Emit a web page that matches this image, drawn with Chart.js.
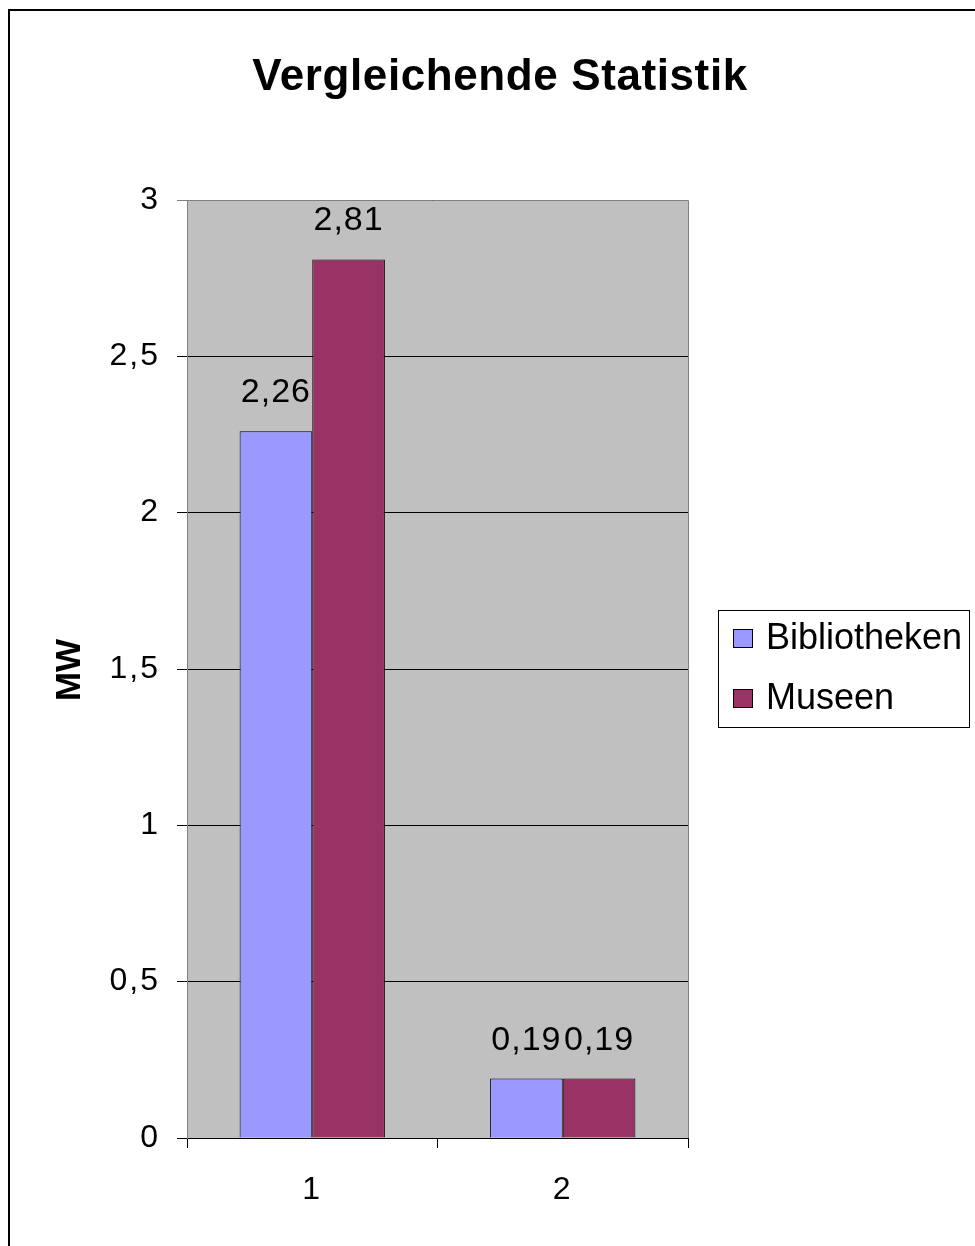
<!DOCTYPE html>
<html>
<head>
<meta charset="utf-8">
<script src="https://cdn.jsdelivr.net/npm/chart.js@4/dist/chart.umd.min.js"></script>
<style>
  html, body { margin: 0; padding: 0; background: #ffffff; }
  #wrap { width: 975px; height: 1246px; position: relative; }
</style>
</head>
<body>
<div id="wrap"><canvas id="c" width="975" height="1246"></canvas></div>
<script>
const chartTitle = 'Vergleichende Statistik';
const yAxisTitle = 'MW';
const categories = ['1', '2'];
const seriesNames = ['Bibliotheken', 'Museen'];
const bibliothekenValues = [2.26, 0.19];
const museenValues = [2.81, 0.19];
const seriesColors = ['#9999FF', '#993366'];
const yTickValues = [0, 0.5, 1, 1.5, 2, 2.5, 3];

const FONT = '"Liberation Sans", Arial, sans-serif';
const fmt = v => String(v).replace('.', ',');

const decorPlugin = {
  id: 'decor',
  beforeDraw(chart) {
    const { ctx, chartArea: a } = chart;
    ctx.save();
    ctx.fillStyle = '#ffffff';
    ctx.fillRect(0, 0, chart.width, chart.height);
    // outer frame
    ctx.strokeStyle = '#000000';
    ctx.lineWidth = 2;
    ctx.strokeRect(9, 10, 1200, 1400);
    // plot background
    ctx.fillStyle = '#C0C0C0';
    ctx.fillRect(a.left, a.top, a.right - a.left, a.bottom - a.top);
    ctx.restore();
    // slightly wider text for axis tick labels (persisting canvas state)
    ctx.letterSpacing = '2px';
  },
  afterDraw(chart) {
    const { ctx, chartArea: a } = chart;
    ctx.save();
    // plot frame (gray top/right)
    ctx.strokeStyle = '#808080';
    ctx.lineWidth = 1;
    ctx.beginPath();
    ctx.moveTo(a.left - 10, a.top + 0.5);
    ctx.lineTo(a.right + 0.5, a.top + 0.5);
    ctx.lineTo(a.right + 0.5, a.bottom);
    ctx.stroke();
    // title
    ctx.fillStyle = '#000000';
    ctx.letterSpacing = '0.6px';
    ctx.font = 'bold 44px ' + FONT;
    ctx.textAlign = 'center';
    ctx.textBaseline = 'alphabetic';
    ctx.fillText(chartTitle, 500, 90);
    // y axis title
    ctx.save();
    ctx.letterSpacing = '0px';
    ctx.translate(80, 670);
    ctx.rotate(-Math.PI / 2);
    ctx.font = 'bold 35px ' + FONT;
    ctx.textAlign = 'center';
    ctx.textBaseline = 'alphabetic';
    ctx.fillText(yAxisTitle, 0, 0);
    ctx.restore();
    // legend
    ctx.letterSpacing = '0px';
    const lx = 718, ly = 610, lw = 251, lh = 117;
    ctx.fillStyle = '#ffffff';
    ctx.fillRect(lx, ly, lw, lh);
    ctx.strokeStyle = '#000000';
    ctx.lineWidth = 1;
    ctx.strokeRect(lx + 0.5, ly + 0.5, lw, lh);
    ctx.font = '36px ' + FONT;
    ctx.textAlign = 'left';
    ctx.textBaseline = 'middle';
    chart.data.datasets.forEach((ds, i) => {
      const cy = 638 + i * 60;
      ctx.fillStyle = ds.backgroundColor;
      ctx.fillRect(733, cy - 9, 19, 18);
      ctx.strokeStyle = '#000000';
      ctx.strokeRect(733.5, cy - 8.5, 19, 18);
      ctx.fillStyle = '#000000';
      ctx.fillText(ds.label, 766, cy + 1);
    });
    ctx.restore();
  },
  afterDatasetsDraw(chart) {
    const { ctx } = chart;
    ctx.save();
    ctx.fillStyle = '#000000';
    ctx.letterSpacing = '1px';
    ctx.font = '34px ' + FONT;
    ctx.textAlign = 'center';
    ctx.textBaseline = 'alphabetic';
    chart.data.datasets.forEach((ds, i) => {
      const meta = chart.getDatasetMeta(i);
      meta.data.forEach((bar, j) => {
        ctx.fillText(fmt(ds.data[j]), bar.x, bar.y - 29);
      });
    });
    ctx.restore();
  }
};

new Chart(document.getElementById('c'), {
  type: 'bar',
  data: {
    labels: categories,
    datasets: [
      { label: seriesNames[0], data: bibliothekenValues, backgroundColor: seriesColors[0], borderColor: '#000000', borderWidth: 1 },
      { label: seriesNames[1], data: museenValues, backgroundColor: seriesColors[1], borderColor: '#000000', borderWidth: 1 }
    ]
  },
  options: {
    responsive: false,
    animation: false,
    devicePixelRatio: 1,
    layout: { padding: { top: 200, right: 287, bottom: 0, left: 0 } },
    datasets: { bar: { categoryPercentage: 0.58, barPercentage: 1.0 } },
    plugins: {
      legend: { display: false },
      title: { display: false },
      tooltip: { enabled: false }
    },
    scales: {
      x: {
        afterFit(s) { s.height = 108; },
        grid: { display: true, drawOnChartArea: false, drawTicks: true, tickLength: 10, color: '#000000', offset: true },
        border: { display: true, color: '#000000', width: 1 },
        ticks: { color: '#000000', font: { family: FONT, size: 32 }, padding: 23, maxRotation: 0 }
      },
      y: {
        min: 0,
        max: 3,
        afterFit(s) { s.width = 187; },
        afterBuildTicks(s) { s.ticks = yTickValues.map(v => ({ value: v })); },
        grid: { color: '#000000', lineWidth: 1, drawTicks: true, tickLength: 10 },
        border: { display: true, color: '#808080', width: 1 },
        ticks: { color: '#000000', font: { family: FONT, size: 32 }, padding: 17, callback: v => fmt(v) }
      }
    }
  },
  plugins: [decorPlugin]
});
</script>
</body>
</html>
